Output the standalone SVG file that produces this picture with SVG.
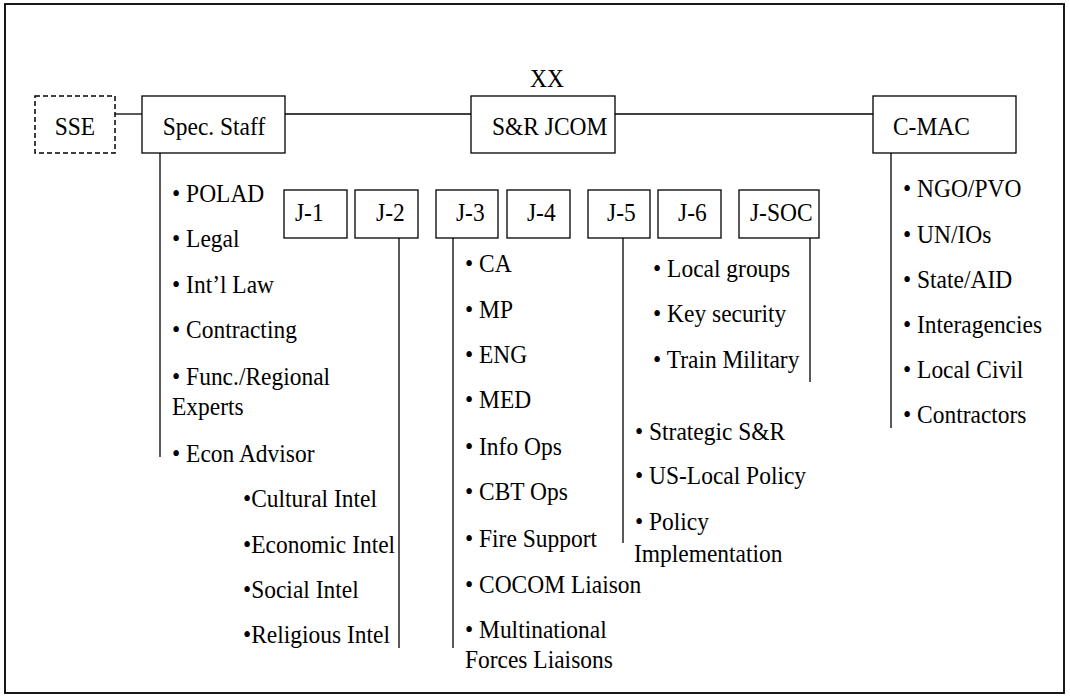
<svg xmlns="http://www.w3.org/2000/svg" width="1070" height="696" viewBox="0 0 1070 696">
<style>
.b{fill:#fff;stroke:#000;stroke-width:1.3}
.d{fill:#fff;stroke:#000;stroke-width:1.5;stroke-dasharray:5,3}
.t{font-family:"Liberation Serif","Times New Roman",serif;font-size:25.5px;fill:#000}
.l{stroke:#000;stroke-width:1.3;fill:none}
</style>
<rect x="5" y="4" width="1059" height="689" fill="#fff" stroke="#000" stroke-width="1.8"/>
<g id="connectors">
<line class="l" x1="115" y1="114" x2="142" y2="114"/>
<line class="l" x1="285" y1="114" x2="471" y2="114"/>
<line class="l" x1="615" y1="114" x2="873" y2="114"/>
<line class="l" x1="160" y1="153" x2="160" y2="457"/>
<line class="l" x1="891" y1="153" x2="891" y2="428"/>
<line class="l" x1="399" y1="238" x2="399" y2="648"/>
<line class="l" x1="453" y1="238" x2="453" y2="648"/>
<line class="l" x1="623" y1="238" x2="623" y2="543"/>
<line class="l" x1="810" y1="238" x2="810" y2="382"/>
</g>
<g id="sse"><rect class="d" x="35" y="96" width="80" height="57"/><text class="t" transform="scale(0.92 1)" x="81.5" y="135" text-anchor="middle">SSE</text></g>
<g id="spec-staff"><rect class="b" x="142" y="96" width="143" height="57"/><text class="t" transform="scale(0.92 1)" x="232.6" y="135" text-anchor="middle">Spec. Staff</text></g>
<g id="srjcom"><text class="t" transform="scale(0.92 1)" x="594.6" y="87" text-anchor="middle">XX</text><rect class="b" x="471" y="96" width="144" height="57"/><text class="t" transform="scale(0.92 1)" x="534.8" y="135">S&amp;R JCOM</text></g>
<g id="cmac"><rect class="b" x="873" y="96" width="143" height="57"/><text class="t" transform="scale(0.92 1)" x="970.6" y="135">C-MAC</text></g>
<g id="j1"><rect class="b" x="284" y="190" width="63" height="48"/><text class="t" transform="scale(0.92 1)" x="320.6" y="221">J-1</text></g>
<g id="j2"><rect class="b" x="355" y="190" width="63" height="48"/><text class="t" transform="scale(0.92 1)" x="408.7" y="221">J-2</text></g>
<g id="j3"><rect class="b" x="436" y="190" width="62" height="48"/><text class="t" transform="scale(0.92 1)" x="495.6" y="221">J-3</text></g>
<g id="j4"><rect class="b" x="507" y="190" width="63" height="48"/><text class="t" transform="scale(0.92 1)" x="572.8" y="221">J-4</text></g>
<g id="j5"><rect class="b" x="588" y="190" width="62" height="48"/><text class="t" transform="scale(0.92 1)" x="659.8" y="221">J-5</text></g>
<g id="j6"><rect class="b" x="658" y="190" width="63" height="48"/><text class="t" transform="scale(0.92 1)" x="737" y="221">J-6</text></g>
<g id="jsoc"><rect class="b" x="739" y="190" width="80" height="48"/><text class="t" transform="scale(0.92 1)" x="815.2" y="221">J-SOC</text></g>
<g id="spec-list" transform="scale(0.92 1)">
<text class="t" x="187" y="202">• POLAD</text>
<text class="t" x="187" y="247">• Legal</text>
<text class="t" x="187" y="293">• Int’l Law</text>
<text class="t" x="187" y="338">• Contracting</text>
<text class="t" x="187" y="385">• Func./Regional</text>
<text class="t" x="187" y="415">Experts</text>
<text class="t" x="187" y="462">• Econ Advisor</text>
</g>
<g id="j2-list" transform="scale(0.92 1)">
<text class="t" x="264.1" y="507">•Cultural Intel</text>
<text class="t" x="264.1" y="553">•Economic Intel</text>
<text class="t" x="264.1" y="598">•Social Intel</text>
<text class="t" x="264.1" y="643">•Religious Intel</text>
</g>
<g id="j3-list" transform="scale(0.92 1)">
<text class="t" x="505.4" y="272">• CA</text>
<text class="t" x="505.4" y="318">• MP</text>
<text class="t" x="505.4" y="363">• ENG</text>
<text class="t" x="505.4" y="408">• MED</text>
<text class="t" x="505.4" y="455">• Info Ops</text>
<text class="t" x="505.4" y="500">• CBT Ops</text>
<text class="t" x="505.4" y="547">• Fire Support</text>
<text class="t" x="505.4" y="593">• COCOM Liaison</text>
<text class="t" x="505.4" y="638">• Multinational</text>
<text class="t" x="505.4" y="668">Forces Liaisons</text>
</g>
<g id="jsoc-list" transform="scale(0.92 1)">
<text class="t" x="709.8" y="277">• Local groups</text>
<text class="t" x="709.8" y="322">• Key security</text>
<text class="t" x="709.8" y="368">• Train Military</text>
</g>
<g id="j5-list" transform="scale(0.92 1)">
<text class="t" x="690.2" y="440">• Strategic S&amp;R</text>
<text class="t" x="690.2" y="484">• US-Local Policy</text>
<text class="t" x="690.2" y="530">• Policy</text>
<text class="t" x="689.1" y="562">Implementation</text>
</g>
<g id="cmac-list" transform="scale(0.92 1)">
<text class="t" x="981.5" y="197">• NGO/PVO</text>
<text class="t" x="981.5" y="243">• UN/IOs</text>
<text class="t" x="981.5" y="288">• State/AID</text>
<text class="t" x="981.5" y="333">• Interagencies</text>
<text class="t" x="981.5" y="378">• Local Civil</text>
<text class="t" x="981.5" y="423">• Contractors</text>
</g>
</svg>
